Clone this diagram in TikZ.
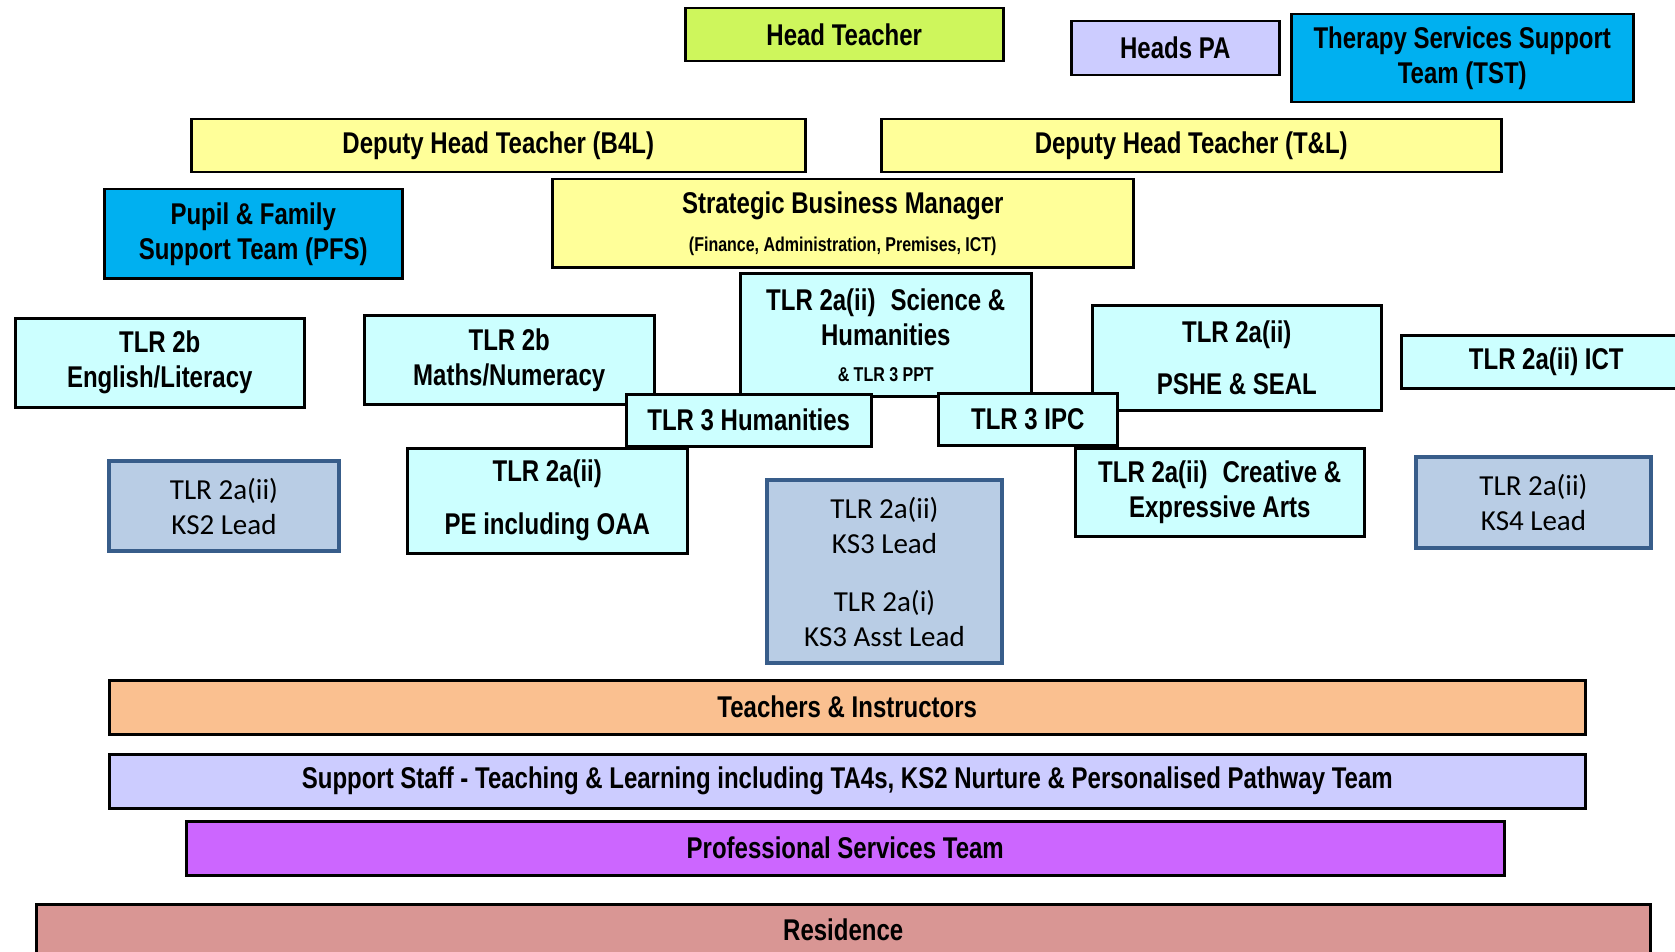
\documentclass[tikz,border=0pt]{standalone}
\usepackage{fontspec}
\setmainfont{Liberation Sans}[FakeStretch=0.8]
\newfontfamily\leadfont{Carlito}
\usetikzlibrary{positioning}

\definecolor{headgreen}{RGB}{206,246,92}
\definecolor{paviolet}{RGB}{204,204,255}
\definecolor{teamblue}{RGB}{0,176,240}
\definecolor{deputyyellow}{RGB}{255,255,153}
\definecolor{tlrcyan}{RGB}{204,255,255}
\definecolor{leadfill}{RGB}{185,205,229}
\definecolor{leadedge}{RGB}{56,93,138}
\definecolor{teachorange}{RGB}{250,192,144}
\definecolor{profpurple}{RGB}{204,102,255}
\definecolor{residrose}{RGB}{217,150,148}

\begin{document}
\begin{tikzpicture}[x=1pt,y=-1pt,
    role/.style={draw=black, line width=2.5pt, anchor=north west, inner sep=0pt, align=center,
        font=\fontsize{30}{35}\selectfont\bfseries},
    tlr/.style={role, fill=tlrcyan},
    lead/.style={role, draw=leadedge, line width=4pt, fill=leadfill,
        font=\fontsize{29}{35}\selectfont\leadfont},
    band/.style={role, minimum height=54pt}
    ]
    \useasboundingbox (0,0) rectangle (1675,952);
    \clip (0,0) rectangle (1675,952);

    % senior team
    \node[role, fill=headgreen, minimum width=318pt, minimum height=53pt] (head) at (684,7) {Head Teacher};
    \node[role, fill=paviolet, minimum width=208pt, minimum height=54pt] (pa) at (1070,20) {Heads PA};
    \node[role, fill=teamblue, minimum width=342pt, minimum height=88pt] (tst) at (1290,13) {Therapy Services Support\\Team (TST)};
    \node[role, fill=deputyyellow, minimum width=614pt, minimum height=53pt] (dhb) at (190,118) {Deputy Head Teacher (B4L)};
    \node[role, fill=deputyyellow, minimum width=620pt, minimum height=53pt] (dht) at (880,118) {Deputy Head Teacher (T\&L)};
    \node[role, fill=teamblue, minimum width=298pt, minimum height=89pt] (pfs) at (103,188) {Pupil \& Family\\Support Team (PFS)};
    \node[role, fill=deputyyellow, minimum width=581pt, minimum height=88pt] (sbm) at (551,178)
        {Strategic Business Manager\\[3pt]{\fontsize{20}{24}\selectfont\bfseries (Finance, Administration, Premises, ICT)}};

    % subject leads
    \node[tlr, minimum width=289pt, minimum height=89pt] (eng) at (14,317) {TLR 2b\\English/Literacy};
    \node[tlr, minimum width=290pt, minimum height=89pt] (maths) at (363,314) {TLR 2b\\Maths/Numeracy};
    \node[tlr, minimum width=291pt, minimum height=123pt] (sci) at (739,272)
        {TLR 2a(ii)\enspace Science \&\\Humanities\\[1pt]{\fontsize{20}{24}\selectfont\bfseries \& TLR 3 PPT}};
    \node[tlr, minimum width=289pt, minimum height=105pt] (pshe) at (1091,304) {TLR 2a(ii)\\[17pt]PSHE \& SEAL};
    \node[tlr, minimum width=320pt, minimum height=53pt] (ict) at (1400,334) {\hspace*{-30pt}TLR 2a(ii) ICT};
    \node[tlr, minimum width=245pt, minimum height=52pt] (hum) at (625,393) {TLR 3 Humanities};
    \node[tlr, minimum width=179pt, minimum height=52pt] (ipc) at (937,392) {TLR 3 IPC};
    \node[tlr, minimum width=280pt, minimum height=105pt] (pe) at (406,447) {TLR 2a(ii)\\[18pt]PE including OAA};
    \node[tlr, minimum width=289pt, minimum height=88pt] (arts) at (1074,447) {TLR 2a(ii)\enspace Creative \&\\Expressive Arts};

    % key stage leads
    \node[lead, minimum width=230pt, minimum height=90pt] (ks2) at (107,459) {TLR 2a(ii)\\KS2 Lead};
    \node[lead, minimum width=235pt, minimum height=183pt] (ks3) at (765,478)
        {TLR 2a(ii)\\KS3 Lead\\[23pt]TLR 2a(i)\\KS3 Asst Lead};
    \node[lead, minimum width=235pt, minimum height=91pt] (ks4) at (1414,455) {TLR 2a(ii)\\KS4 Lead};

    % whole school bands
    \node[band, fill=teachorange, minimum width=1476pt] (teach) at (108,679) {Teachers \& Instructors};
    \node[band, fill=paviolet, minimum width=1476pt] (support) at (108,753)
        {Support Staff - Teaching \& Learning including TA4s, KS2 Nurture \& Personalised Pathway Team};
    \node[band, fill=profpurple, minimum width=1318pt] (prof) at (185,820) {Professional Services Team};
    \node[band, fill=residrose, minimum width=1614pt, minimum height=52pt] (res) at (35,903) {Residence};
\end{tikzpicture}
\end{document}
